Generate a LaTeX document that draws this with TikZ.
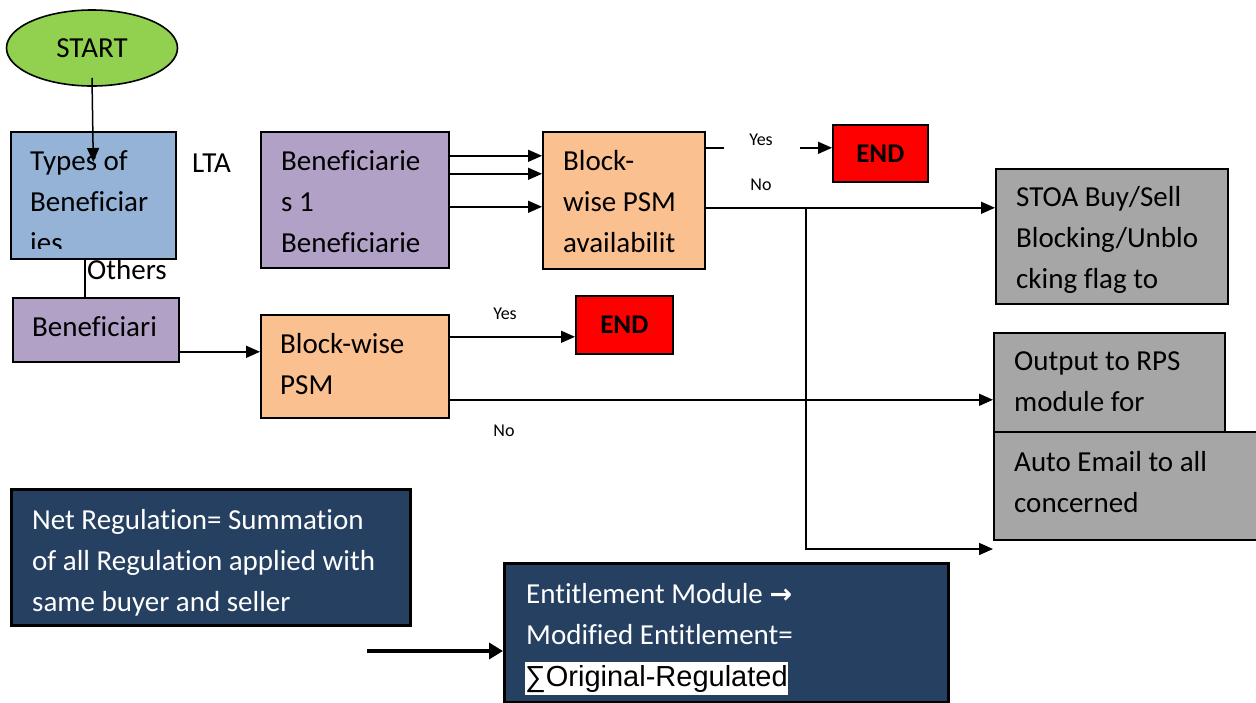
\documentclass[tikz,border=0pt]{standalone}
\usepackage{fontspec}
\setmainfont{Carlito}[Ligatures=NoCommon]
\newfontfamily\symfont{DejaVu Sans}
\newfontfamily\arialfont{Liberation Sans}
\usetikzlibrary{arrows.meta,shapes.geometric}
\definecolor{startgreen}{HTML}{92D050}
\definecolor{typeblue}{HTML}{95B3D7}
\definecolor{benpurple}{HTML}{B2A1C7}
\definecolor{psmorange}{HTML}{FAC090}
\definecolor{outgray}{HTML}{A6A6A6}
\definecolor{navy}{HTML}{254061}
\begin{document}
\begin{tikzpicture}[x=1pt,y=-1pt,
  box/.style={draw=black, line width=1.6pt, rectangle, inner sep=0pt, anchor=north west},
  darkbox/.style={box, fill=navy, line width=3pt},
  % multi-line texts are placed by the baseline of their last line
  txt/.style={font=\fontsize{29}{41.3}\selectfont, align=left, inner sep=0pt, anchor=base west},
  wtxt/.style={txt, text=white},
  small/.style={font=\fontsize{18}{20}\selectfont, inner sep=0pt},
  endtxt/.style={font=\fontsize{27}{30}\selectfont\bfseries},
  conn/.style={line width=1.5pt, -{Triangle[length=14pt,width=12pt]}},
  plain/.style={line width=1.5pt},
  heavy/.style={line width=4pt, -{Triangle[length=14pt,width=16pt]}}]
\useasboundingbox (0,0) rectangle (1256,702);

% start
\node[ellipse, draw=black, line width=1.6pt, fill=startgreen, minimum width=171pt, minimum height=76pt,
      font=\fontsize{29}{32}\selectfont] (start) at (92,48) {START};

% types of beneficiaries
\node[box, fill=typeblue, minimum width=165pt, minimum height=127pt] (types) at (10,131) {};
\begin{scope}
  \clip (types.north west) rectangle ([yshift=11pt]types.south east);
  \node[txt] (typestxt) at (30,252.6) {Types of\\Beneficiar\\ies};
\end{scope}
\node[txt] (lta) at (192,172) {LTA};
\node[txt] (others) at (87,279) {Others};

% LTA branch
\node[box, fill=benpurple, minimum width=188pt, minimum height=136pt] (benef) at (260,131) {};
\node[txt] (beneftxt) at (281,252.6) {Beneficiarie\\s 1\\Beneficiarie};
\node[box, fill=psmorange, minimum width=162pt, minimum height=137pt] (block) at (542,131) {};
\node[txt] (blocktxt) at (563,252.6) {Block-\\wise PSM\\availabilit};
\node[box, fill=red, minimum width=95pt, minimum height=57pt] (endA) at (832,124) {};
\node[endtxt] (endAtxt) at (endA.center) {END};
\node[small] (yesA) at (761,140) {Yes};
\node[small] (noA) at (761,185) {No};

% outputs
\node[box, fill=outgray, minimum width=232pt, minimum height=135pt] (stoa) at (995,168) {};
\node[txt] (stoatxt) at (1016,288.6) {STOA Buy/Sell\\Blocking/Unblo\\cking flag to};
\node[box, fill=outgray, minimum width=231pt, minimum height=143pt] (output) at (993,332) {};
\node[txt] (outputtxt) at (1014,411.3) {Output to RPS\\module for};
\node[box, fill=outgray, minimum width=270pt, minimum height=108pt] (auto) at (993,431) {};
\node[txt] (autotxt) at (1014,512.3) {Auto Email to all\\concerned};

% others branch
\node[box, fill=benpurple, minimum width=166pt, minimum height=64pt] (benefO) at (12,297) {};
\node[txt] (benefOtxt) at (32,336) {Beneficiari};
\node[box, fill=psmorange, minimum width=188pt, minimum height=103pt] (psm) at (260,314) {};
\node[txt] (psmtxt) at (280,394.3) {Block-wise\\PSM};
\node[box, fill=red, minimum width=97pt, minimum height=58pt] (endB) at (575,295) {};
\node[endtxt] (endBtxt) at (endB.center) {END};
\node[small] (yesB) at (505,314) {Yes};
\node[small] (noB) at (504,431) {No};

% regulation boxes
\node[darkbox, minimum width=399pt, minimum height=136pt] (net) at (10,488) {};
\begin{scope}
  \clip (net.north west) rectangle ([yshift=12pt]net.south east);
  \node[wtxt] (nettxt) at (32,611.6) {Net Regulation= Summation\\of all Regulation applied with\\same buyer and seller};
\end{scope}
\node[darkbox, minimum width=444pt, minimum height=139pt] (ent) at (503,562) {};
\node[wtxt] (enttxt) at (526,644.3) {Entitlement Module {\symfont\bfseries\fontsize{27}{28}\selectfont →}\\Modified Entitlement=};
\node[fill=white, text=black, inner xsep=0pt, inner ysep=3pt, anchor=base west,
      font=\arialfont\fontsize{29}{30}\selectfont] (formula) at (525,686) {∑Original-Regulated};

% connectors
\draw[conn] ([yshift=9pt]start.south) -- ([yshift=-31pt]types.north);
\draw[plain] ([xshift=-8.5pt]types.south) -- ([xshift=-8.5pt]types.south |- benefO.north);

\draw[conn] ([yshift=44pt]benef.east) -- ([yshift=44pt]benef.east -| block.west);
\draw[conn] ([yshift=26pt]benef.east) -- ([yshift=26pt]benef.east -| block.west);
\draw[conn] ([yshift=-7pt]benef.east) -- ([yshift=-7pt]benef.east -| block.west);

\draw[plain] ([yshift=52.5pt]block.east) -- ++(18,0);
\draw[conn] ([xshift=-32pt,yshift=5.5pt]endA.west) -- ([yshift=5.5pt]endA.west);
\draw[conn] ([yshift=-7.5pt]block.east) -- ([yshift=-7.5pt]block.east -| stoa.west);
\coordinate (split) at (806,207);
\coordinate (mailin) at (993,549);
\draw[conn] (split) |- (mailin);

\draw[conn] ([yshift=-22pt]benefO.east) -- ([yshift=-22pt]benefO.east -| psm.west);
\draw[conn] ([yshift=29.5pt]psm.east) -- ([yshift=29.5pt]psm.east -| endB.west);
\draw[conn] ([yshift=-33.5pt]psm.east) -- ([yshift=-33.5pt]psm.east -| output.west);

\coordinate (netout) at (367,651);
\draw[heavy] (netout) -- (netout -| ent.west);
\end{tikzpicture}
\end{document}
